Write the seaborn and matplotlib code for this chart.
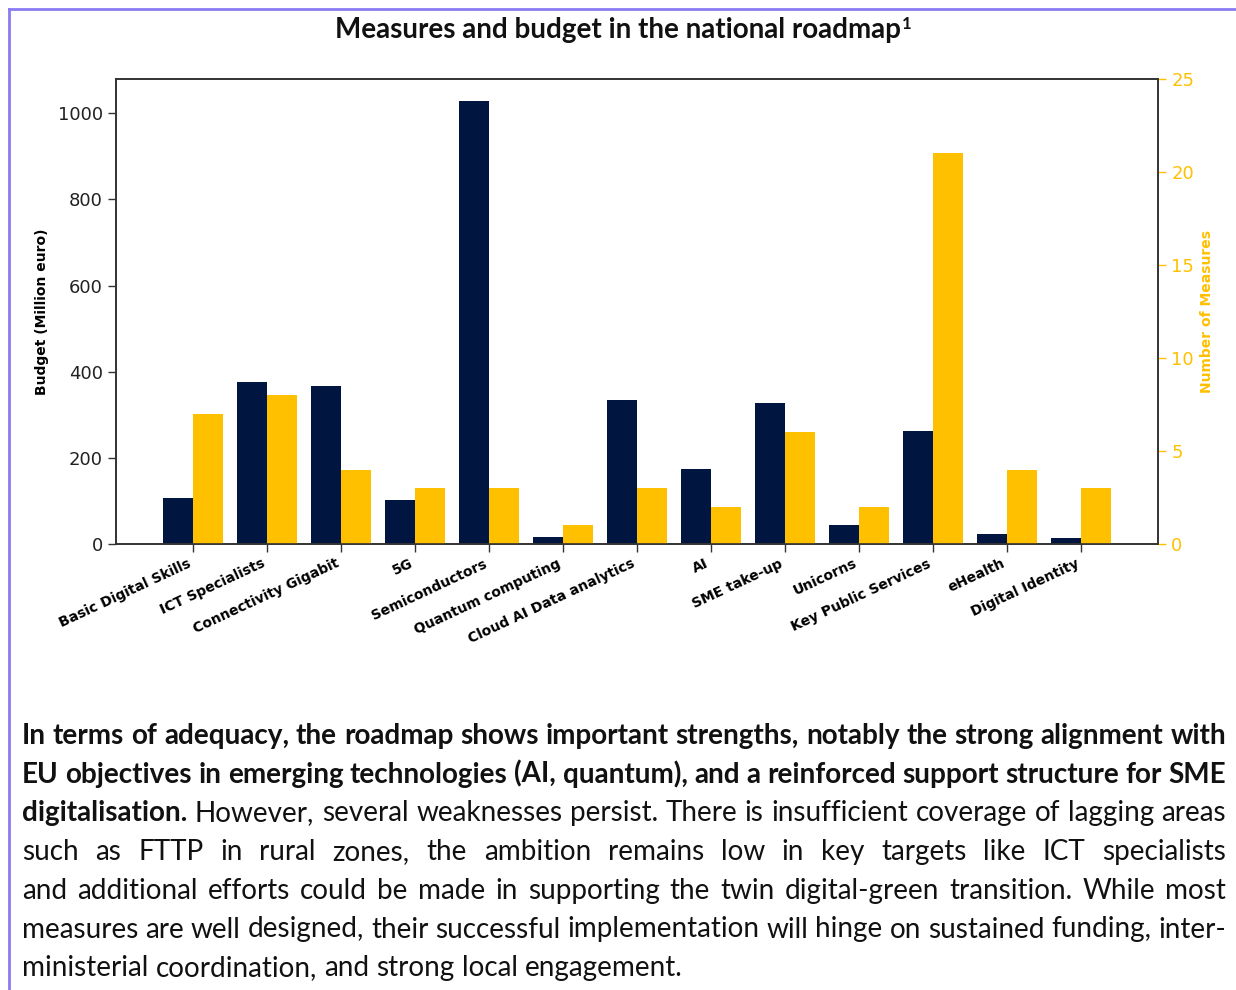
#!/usr/bin/env python3

import numpy as np
import pandas as pd
import matplotlib
matplotlib.use('Agg')
import matplotlib.pyplot as plt
from matplotlib.lines import Line2D
import seaborn as sns

categories = ['Basic Digital Skills', 'ICT Specialists', 'Connectivity Gigabit', '5G',
	'Semiconductors', 'Quantum computing', 'Cloud AI Data analytics', 'AI', 'SME take-up',
	'Unicorns', 'Key Public Services', 'eHealth', 'Digital Identity']
budget = [107, 376, 367, 102, 1028, 16, 334, 174, 327, 44, 262, 23, 14]
measures = [7, 8, 4, 3, 3, 1, 3, 2, 6, 2, 21, 4, 3]
budget_ticks = [0, 200, 400, 600, 800, 1000]
measures_ticks = [0, 5, 10, 15, 20, 25]

title = 'Measures and budget in the national roadmap'
footnote = '1'

# paragraph as printed: (bold part, regular part) per line
para_lines = [
	('In terms of adequacy, the roadmap shows important strengths, notably the strong alignment with', ''),
	('EU objectives in emerging technologies (AI, quantum), and a reinforced support structure for SME', ''),
	('digitalisation.', 'However, several weaknesses persist. There is insufficient coverage of lagging areas'),
	('', 'such as FTTP in rural zones, the ambition remains low in key targets like ICT specialists'),
	('', 'and additional efforts could be made in supporting the twin digital-green transition. While most'),
	('', 'measures are well designed, their successful implementation will hinge on sustained funding, inter-'),
	('', 'ministerial coordination, and strong local engagement.'),
]

navy = '#001640'
gold = '#FFC000'
border = '#8B7BF2'
W, H = 1236, 990

fig = plt.figure(figsize=(W / 100, H / 100), dpi=100)
renderer = fig.canvas.get_renderer()

def px_w(s, size, weight, family='Lato'):
	t = fig.text(0, 0, s, fontsize=size, fontweight=weight, family=family)
	w = t.get_window_extent(renderer).width
	t.remove()
	return w

# chart
ax = fig.add_axes([116 / W, 1 - 544 / H, (1158 - 116) / W, (544 - 79) / H])
n = len(categories)
df = pd.DataFrame({
	'category': categories * 2,
	'series': ['Budget'] * n + ['Measures'] * n,
	'budget': budget + [np.nan] * n,
	'measures': [np.nan] * n + measures,
})
sns.barplot(data=df, x='category', y='budget', hue='series', hue_order=['Budget', 'Measures'],
	order=categories, palette=[navy, gold], saturation=1, width=0.8, errorbar=None,
	legend=False, ax=ax)
ax2 = ax.twinx()
sns.barplot(data=df, x='category', y='measures', hue='series', hue_order=['Budget', 'Measures'],
	order=categories, palette=[navy, gold], saturation=1, width=0.8, errorbar=None,
	legend=False, ax=ax2)

ax.set_xlim(-1.04, n + 0.04)
ax.set_ylim(0, max(budget) * 1.05)
ax.set_yticks(budget_ticks)
ax2.set_ylim(0, 25)
ax2.set_yticks(measures_ticks)

ax.set_xlabel('')
ax.set_xticks(range(n))
ax.set_xticklabels(categories, rotation=25, ha='right', fontsize=10, fontweight='bold')
ax.tick_params(axis='x', length=6, width=1, color='#333333', pad=3)
ax.tick_params(axis='y', labelsize=13, length=6, width=1, color='#333333', labelcolor='#222222')
ax2.tick_params(axis='y', labelsize=13, length=6, width=1, colors=gold)
ax.set_ylabel('Budget (Million euro)', fontsize=10, fontweight='bold', labelpad=6)
ax2.set_ylabel('Number of Measures', fontsize=10, fontweight='bold', color=gold, labelpad=4)
for a in (ax, ax2):
	for sp in a.spines.values():
		sp.set_color('#333333')
		sp.set_linewidth(1.2)

# title with footnote mark
t_size = 20 * 565 / px_w(title, 20, 'bold')
tt = fig.text(335 / W, 1 - 38 / H, title, fontsize=t_size, fontweight='bold', family='Lato',
	va='baseline', ha='left', color='#111111')
tb = tt.get_window_extent(renderer)
fig.text((tb.x1 + 1) / W, 1 - 29 / H, footnote, fontsize=t_size * 0.6, fontweight='bold',
	family='Lato', va='baseline', ha='left', color='#111111')

# justified paragraph
left, right = 22, 1226
base = 20
first_words = para_lines[0][0].split()
nat = sum(px_w(w, base, 'bold') for w in first_words) + (len(first_words) - 1) * (px_w('x x', base, 'bold') - px_w('xx', base, 'bold'))
p_size = base * (right - left) / nat
space = px_w('x x', p_size, 'normal') - px_w('xx', p_size, 'normal')
y0, dy = 744, 38.7
for i, (bold, reg) in enumerate(para_lines):
	words = [(w, 'bold') for w in bold.split()] + [(w, 'normal') for w in reg.split()]
	widths = [px_w(w, p_size, wt) for w, wt in words]
	last = i == len(para_lines) - 1
	gap = space if last else (right - left - sum(widths)) / (len(words) - 1)
	x = left
	y = 1 - (y0 + i * dy) / H
	for (w, wt), ww in zip(words, widths):
		fig.text(x / W, y, w, fontsize=p_size, fontweight=wt, family='Lato', va='baseline',
			ha='left', color='#111111')
		x += ww + gap

# page frame
fig.add_artist(Line2D([8.5 / W, 8.5 / W], [0, 1 - 9 / H], color=border, lw=2, transform=fig.transFigure))
fig.add_artist(Line2D([8.5 / W, 1], [1 - 9 / H, 1 - 9 / H], color=border, lw=2, transform=fig.transFigure))

fig.savefig('out.png', dpi=100, facecolor='white')
